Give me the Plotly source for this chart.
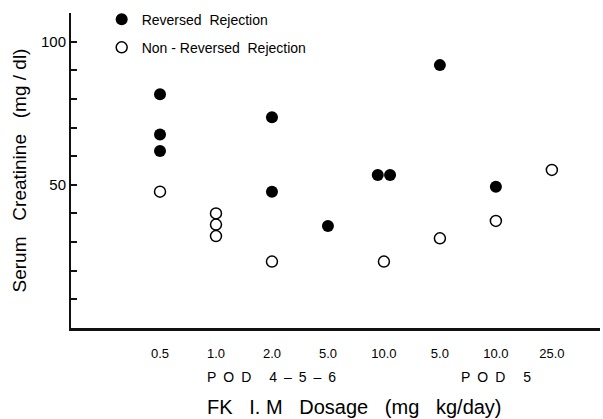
import plotly.graph_objects as go

# ---- data ----
categories = ["0.5", "1.0", "2.0", "5.0", "10.0", "5.0", "10.0", "25.0"]
group_labels = ["P\u2002O\u2002D\u2003 4\u2002–\u20025\u2002–\u20026", "P\u2002O\u2002D\u2003 5"]
group_centers = [2, 6]

rev_cat = [0, 0, 0, 2, 2, 3, 4, 4, 5, 6]
rev_jitter = [0, 0, 0, 0, 0, 0, -0.11, 0.11, 0, 0]
rev_val = [81.6, 67.6, 61.8, 73.6, 47.6, 35.6, 53.4, 53.4, 91.8, 49.3]

non_cat = [0, 1, 1, 1, 2, 4, 5, 6, 7]
non_jitter = [0, 0, 0, 0, 0, 0, 0, 0, 0]
non_val = [47.6, 40.0, 36.1, 32.1, 23.2, 23.2, 31.3, 37.4, 55.2]

y_ticks = [10, 20, 30, 40, 50, 60, 70, 80, 90, 100, 110]
y_ticktext = ["", "", "", "", "50", "", "", "", "", "100", ""]

FONT = "Liberation Sans, Arial, sans-serif"

fig = go.Figure()
fig.add_trace(go.Scatter(
    x=[c + j for c, j in zip(rev_cat, rev_jitter)], y=rev_val,
    mode="markers", name="Reversed  Rejection", legendgroup="a",
    marker=dict(symbol="circle", size=12, color="black", line=dict(width=0)),
))
fig.add_trace(go.Scatter(
    x=[c + j for c, j in zip(non_cat, non_jitter)], y=non_val,
    mode="markers", name="Non - Reversed  Rejection", legendgroup="b",
    marker=dict(symbol="circle-open", size=11, color="black", line=dict(width=1.5, color="black")),
))

for lbl, cx in zip(group_labels, group_centers):
    fig.add_annotation(x=cx, xref="x", y=-0.155, yref="paper", text=lbl,
                       showarrow=False, font=dict(family=FONT, size=14, color="black"),
                       xanchor="center", yanchor="middle")

fig.add_annotation(x=0.535, xref="paper", y=-0.252, yref="paper",
                   text="FK   I. M   Dosage   (mg   kg/day)", showarrow=False,
                   font=dict(family=FONT, size=20, color="black"),
                   xanchor="center", yanchor="middle")

fig.update_layout(
    width=603, height=419,
    margin=dict(l=71, r=3, t=13, b=91),
    paper_bgcolor="white", plot_bgcolor="white",
    font=dict(family=FONT, color="black"),
    showlegend=True,
    legend=dict(x=0.058, y=1.03, xanchor="left", yanchor="top",
                bgcolor="rgba(0,0,0,0)", font=dict(size=14, family=FONT),
                tracegroupgap=7, itemwidth=30),
    xaxis=dict(
        range=[-1.59, 7.86], tickmode="array", tickvals=list(range(len(categories))),
        ticktext=categories, ticks="", showgrid=False, zeroline=False,
        showline=True, linecolor="#111", linewidth=3,
        tickfont=dict(size=13, family=FONT), ticklabelstandoff=11,
    ),
    yaxis=dict(
        range=[0, 110], tickmode="array", tickvals=y_ticks, ticktext=y_ticktext,
        ticks="inside", ticklen=6, tickwidth=2, tickcolor="#111",
        showgrid=False, zeroline=False, showline=True, linecolor="#111", linewidth=2,
        tickfont=dict(size=15, family=FONT),
        title=dict(text="Serum   Creatinine   (mg / dl)", font=dict(size=19, family=FONT), standoff=9),
    ),
)

fig.write_html("out.html", config={"displayModeBar": False},
               post_script="document.body.style.margin='0';")
